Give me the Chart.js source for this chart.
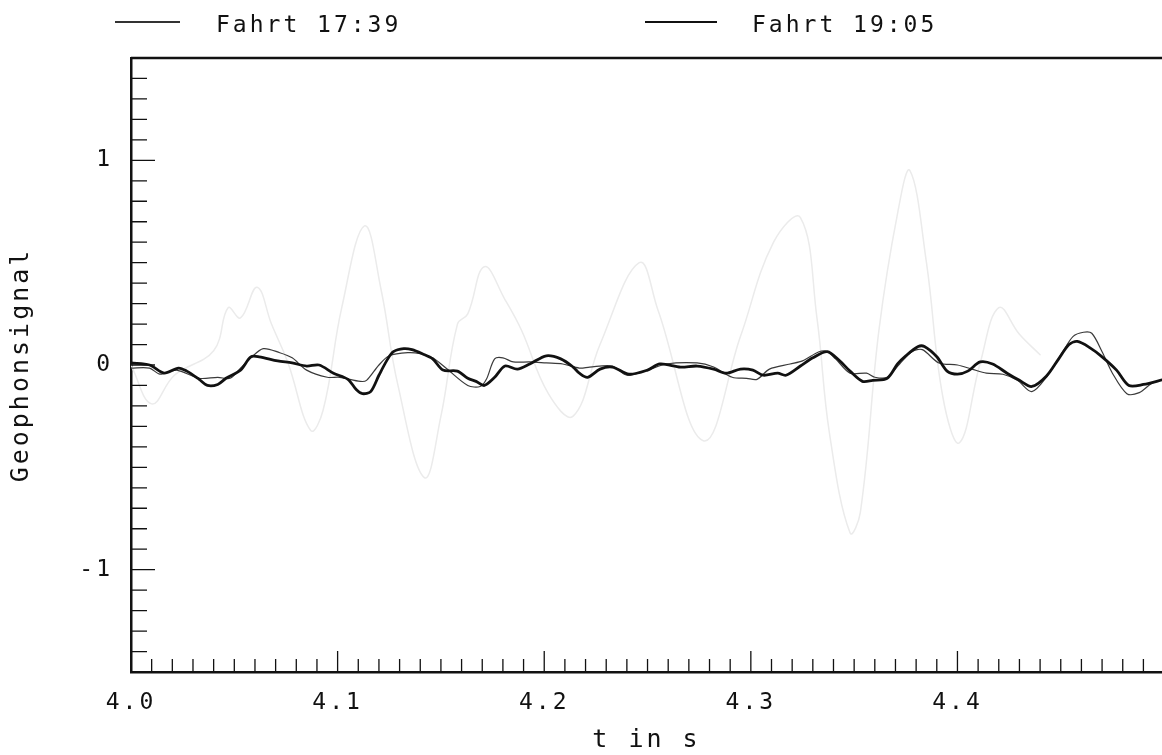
<!DOCTYPE html>
<html lang="de">
<head>
<meta charset="utf-8">
<title>Geophonsignal</title>
<script src="https://cdn.jsdelivr.net/npm/chart.js@4.4.1/dist/chart.umd.min.js"></script>
<style>
  html, body { margin: 0; padding: 0; background: #fff; }
  #wrap { position: relative; width: 1162px; height: 755px; overflow: hidden; }
  #chart { position: absolute; left: 0; top: 0; }
  .leg-text { position: absolute; top: 13px; font-family: 'DejaVu Sans Mono', monospace; font-size: 23px; line-height: 23px; letter-spacing: 3px; color: #111; white-space: nowrap; }
  .leg-line { position: absolute; }
</style>
</head>
<body>
<div id="wrap">
  <canvas id="chart" width="1162" height="755"></canvas>
  <div id="legend"></div>
</div>
<script>
// --- Daten ---
const reihenNamen = ['Fahrt 17:39', 'Fahrt 19:05'];

// Fahrt 17:39 (dünne Linie)
const zeit1739 = [4.000, 4.009, 4.014, 4.022, 4.033, 4.042, 4.048, 4.053, 4.058, 4.064, 4.072, 4.078, 4.085, 4.095, 4.101, 4.111, 4.114, 4.120, 4.125, 4.134, 4.140, 4.146, 4.153, 4.163, 4.169, 4.172, 4.176, 4.180, 4.185, 4.193, 4.201, 4.209, 4.217, 4.222, 4.233, 4.240, 4.250, 4.259, 4.274, 4.282, 4.291, 4.298, 4.303, 4.309, 4.319, 4.325, 4.333, 4.337, 4.341, 4.348, 4.356, 4.360, 4.366, 4.372, 4.378, 4.383, 4.391, 4.400, 4.407, 4.414, 4.422, 4.429, 4.436, 4.443, 4.451, 4.456, 4.461, 4.465, 4.470, 4.475, 4.482, 4.488, 4.494, 4.500];
const wert1739 = [-0.015, -0.015, -0.045, -0.025, -0.065, -0.06, -0.065, -0.015, 0.035, 0.08, 0.06, 0.035, -0.025, -0.06, -0.06, -0.08, -0.075, 0.0, 0.045, 0.06, 0.055, 0.035, -0.02, -0.10, -0.105, -0.07, 0.03, 0.035, 0.015, 0.015, 0.01, 0.005, -0.015, -0.01, -0.005, -0.05, -0.025, 0.005, 0.01, -0.01, -0.06, -0.065, -0.07, -0.02, 0.005, 0.02, 0.065, 0.065, 0.03, -0.04, -0.04, -0.06, -0.06, 0.005, 0.065, 0.075, 0.01, 0.0, -0.02, -0.04, -0.045, -0.075, -0.13, -0.06, 0.065, 0.14, 0.16, 0.155, 0.065, -0.04, -0.14, -0.135, -0.09, -0.07];

// Fahrt 19:05 (dicke Linie)
const zeit1905 = [4.000, 4.009, 4.016, 4.023, 4.027, 4.033, 4.037, 4.042, 4.046, 4.053, 4.058, 4.062, 4.071, 4.078, 4.085, 4.091, 4.098, 4.105, 4.109, 4.112, 4.116, 4.120, 4.124, 4.127, 4.132, 4.136, 4.141, 4.146, 4.151, 4.158, 4.163, 4.167, 4.171, 4.176, 4.181, 4.187, 4.193, 4.201, 4.208, 4.214, 4.217, 4.221, 4.227, 4.233, 4.241, 4.250, 4.256, 4.266, 4.274, 4.282, 4.288, 4.295, 4.301, 4.306, 4.313, 4.317, 4.324, 4.330, 4.337, 4.343, 4.348, 4.354, 4.359, 4.366, 4.371, 4.375, 4.381, 4.384, 4.390, 4.395, 4.400, 4.405, 4.411, 4.417, 4.424, 4.430, 4.436, 4.443, 4.449, 4.454, 4.458, 4.464, 4.470, 4.477, 4.483, 4.490, 4.500];
const wert1905 = [0.01, 0.0, -0.04, -0.015, -0.03, -0.07, -0.10, -0.095, -0.065, -0.025, 0.04, 0.04, 0.02, 0.01, -0.005, 0.0, -0.04, -0.07, -0.12, -0.14, -0.13, -0.05, 0.025, 0.065, 0.08, 0.075, 0.055, 0.03, -0.025, -0.03, -0.065, -0.08, -0.10, -0.06, -0.005, -0.02, 0.005, 0.045, 0.03, -0.01, -0.04, -0.06, -0.02, -0.01, -0.045, -0.025, 0.005, -0.01, -0.005, -0.02, -0.04, -0.02, -0.025, -0.05, -0.04, -0.05, -0.005, 0.035, 0.065, 0.02, -0.03, -0.08, -0.075, -0.065, 0.005, 0.045, 0.09, 0.09, 0.04, -0.03, -0.045, -0.03, 0.015, 0.005, -0.04, -0.075, -0.105, -0.055, 0.03, 0.10, 0.115, 0.085, 0.04, -0.025, -0.10, -0.095, -0.07];

// durchscheinende Kurve der Rückseite (sehr blass im Scan)
const zeitDurch = [4.000, 4.010, 4.021, 4.040, 4.047, 4.053, 4.061, 4.068, 4.076, 4.087, 4.093, 4.102, 4.113, 4.121, 4.129, 4.142, 4.150, 4.158, 4.163, 4.171, 4.181, 4.189, 4.202, 4.214, 4.227, 4.246, 4.255, 4.277, 4.295, 4.311, 4.324, 4.332, 4.338, 4.348, 4.353, 4.362, 4.371, 4.377, 4.385, 4.393, 4.401, 4.411, 4.420, 4.430, 4.440];
const wertDurch = [0.0, -0.19, -0.05, 0.07, 0.28, 0.23, 0.38, 0.2, 0.01, -0.32, -0.22, 0.28, 0.68, 0.37, -0.09, -0.55, -0.25, 0.2, 0.25, 0.48, 0.32, 0.17, -0.14, -0.25, 0.1, 0.5, 0.27, -0.37, 0.14, 0.6, 0.72, 0.23, -0.33, -0.82, -0.72, 0.17, 0.74, 0.95, 0.5, -0.16, -0.38, 0.01, 0.28, 0.15, 0.05];

const punkte = (zeit, wert) => zeit.map((t, i) => ({ x: t, y: wert[i] }));

const SCHRIFT = "'DejaVu Sans Mono', monospace";
const TINTE = '#111';

// --- Legende (HTML) ---
const legende = document.getElementById('legend');
const legendeStil = [
  { lineLeft: 115, lineWidth: 65, textLeft: 216, stroke: 1.3, color: '#333' },
  { lineLeft: 645, lineWidth: 72, textLeft: 752, stroke: 2.4, color: TINTE }
];
reihenNamen.forEach((name, i) => {
  const s = legendeStil[i];
  const linie = document.createElement('div');
  linie.className = 'leg-line';
  linie.style.left = s.lineLeft + 'px';
  linie.style.width = s.lineWidth + 'px';
  linie.style.top = (22 - s.stroke / 2) + 'px';
  linie.style.height = s.stroke + 'px';
  linie.style.background = s.color;
  const text = document.createElement('div');
  text.className = 'leg-text';
  text.style.left = s.textLeft + 'px';
  text.textContent = name;
  legende.appendChild(linie);
  legende.appendChild(text);
});

// Zeichenabstand wie beim Plotter
const buchstabenAbstand = {
  id: 'buchstabenAbstand',
  beforeUpdate(chart) { chart.ctx.letterSpacing = '3px'; },
  beforeDraw(chart) { chart.ctx.letterSpacing = '3px'; }
};

// Teilstriche nach innen + obere Rahmenlinie
const achsenStriche = {
  id: 'achsenStriche',
  afterDraw(chart) {
    const { ctx, chartArea, scales } = chart;
    const x = scales.x, y = scales.y;
    ctx.save();
    ctx.strokeStyle = TINTE;
    ctx.lineWidth = 1.3;
    ctx.beginPath();
    for (let i = 1; x.min + i * 0.01 <= x.max; i++) {
      const v = x.min + i * 0.01;
      const px = x.getPixelForValue(v);
      const gross = Math.abs(v * 10 - Math.round(v * 10)) < 1e-6;
      ctx.moveTo(px, chartArea.bottom);
      ctx.lineTo(px, chartArea.bottom - (gross ? 21 : 13));
    }
    for (let i = 1; y.min + i * 0.1 < y.max - 1e-6; i++) {
      const v = y.min + i * 0.1;
      const py = y.getPixelForValue(v);
      const gross = Math.abs(v - Math.round(v)) < 1e-6;
      ctx.moveTo(chartArea.left, py);
      ctx.lineTo(chartArea.left + (gross ? 24 : 16), py);
    }
    ctx.stroke();
    ctx.lineWidth = 2.5;
    ctx.beginPath();
    ctx.moveTo(chartArea.left, chartArea.top);
    ctx.lineTo(chartArea.right, chartArea.top);
    ctx.stroke();
    ctx.restore();
  }
};

const ctx = document.getElementById('chart').getContext('2d');
new Chart(ctx, {
  type: 'line',
  data: {
    datasets: [{
      label: reihenNamen[1],
      data: punkte(zeit1905, wert1905),
      borderColor: TINTE,
      borderWidth: 2.8,
      order: 0
    }, {
      label: reihenNamen[0],
      data: punkte(zeit1739, wert1739),
      borderColor: '#3a3a3a',
      borderWidth: 1.2,
      order: 1
    }, {
      label: 'Rückseite',
      data: punkte(zeitDurch, wertDurch),
      borderColor: '#ebebeb',
      borderWidth: 1.5,
      tension: 0.4,
      order: 2
    }]
  },
  options: {
    responsive: false,
    animation: false,
    events: [],
    layout: { padding: { top: 58, right: 0, bottom: 0, left: 0 } },
    elements: {
      point: { radius: 0 },
      line: { tension: 0.3, borderJoinStyle: 'round', borderCapStyle: 'round' }
    },
    plugins: {
      legend: { display: false },
      tooltip: { enabled: false }
    },
    scales: {
      x: {
        type: 'linear',
        min: 4.0,
        max: 4.499,
        afterFit: (scale) => { scale.height = 83; },
        grid: { display: false, drawTicks: false },
        border: { display: true, color: TINTE, width: 2.5 },
        ticks: {
          stepSize: 0.1,
          includeBounds: false,
          padding: 17,
          color: TINTE,
          font: { family: SCHRIFT, size: 23 },
          callback: (value) => value.toFixed(1)
        },
        title: {
          display: true,
          text: 't in s',
          color: TINTE,
          font: { family: SCHRIFT, size: 25 },
          padding: { top: 0, bottom: 0 }
        }
      },
      y: {
        type: 'linear',
        min: -1.5,
        max: 1.5,
        bounds: 'data',
        afterFit: (scale) => { scale.width = 131; },
        grid: { display: false, drawTicks: false },
        border: { display: true, color: TINTE, width: 2.5 },
        ticks: {
          stepSize: 0.5,
          padding: 18,
          color: TINTE,
          font: { family: SCHRIFT, size: 23 },
          callback: (value) => Number.isInteger(value) ? value.toFixed(0) : ''
        },
        title: {
          display: true,
          text: 'Geophonsignal',
          color: TINTE,
          font: { family: SCHRIFT, size: 25 },
          padding: { top: 6, bottom: 0 }
        }
      }
    }
  },
  plugins: [buchstabenAbstand, achsenStriche]
});
</script>
</body>
</html>
